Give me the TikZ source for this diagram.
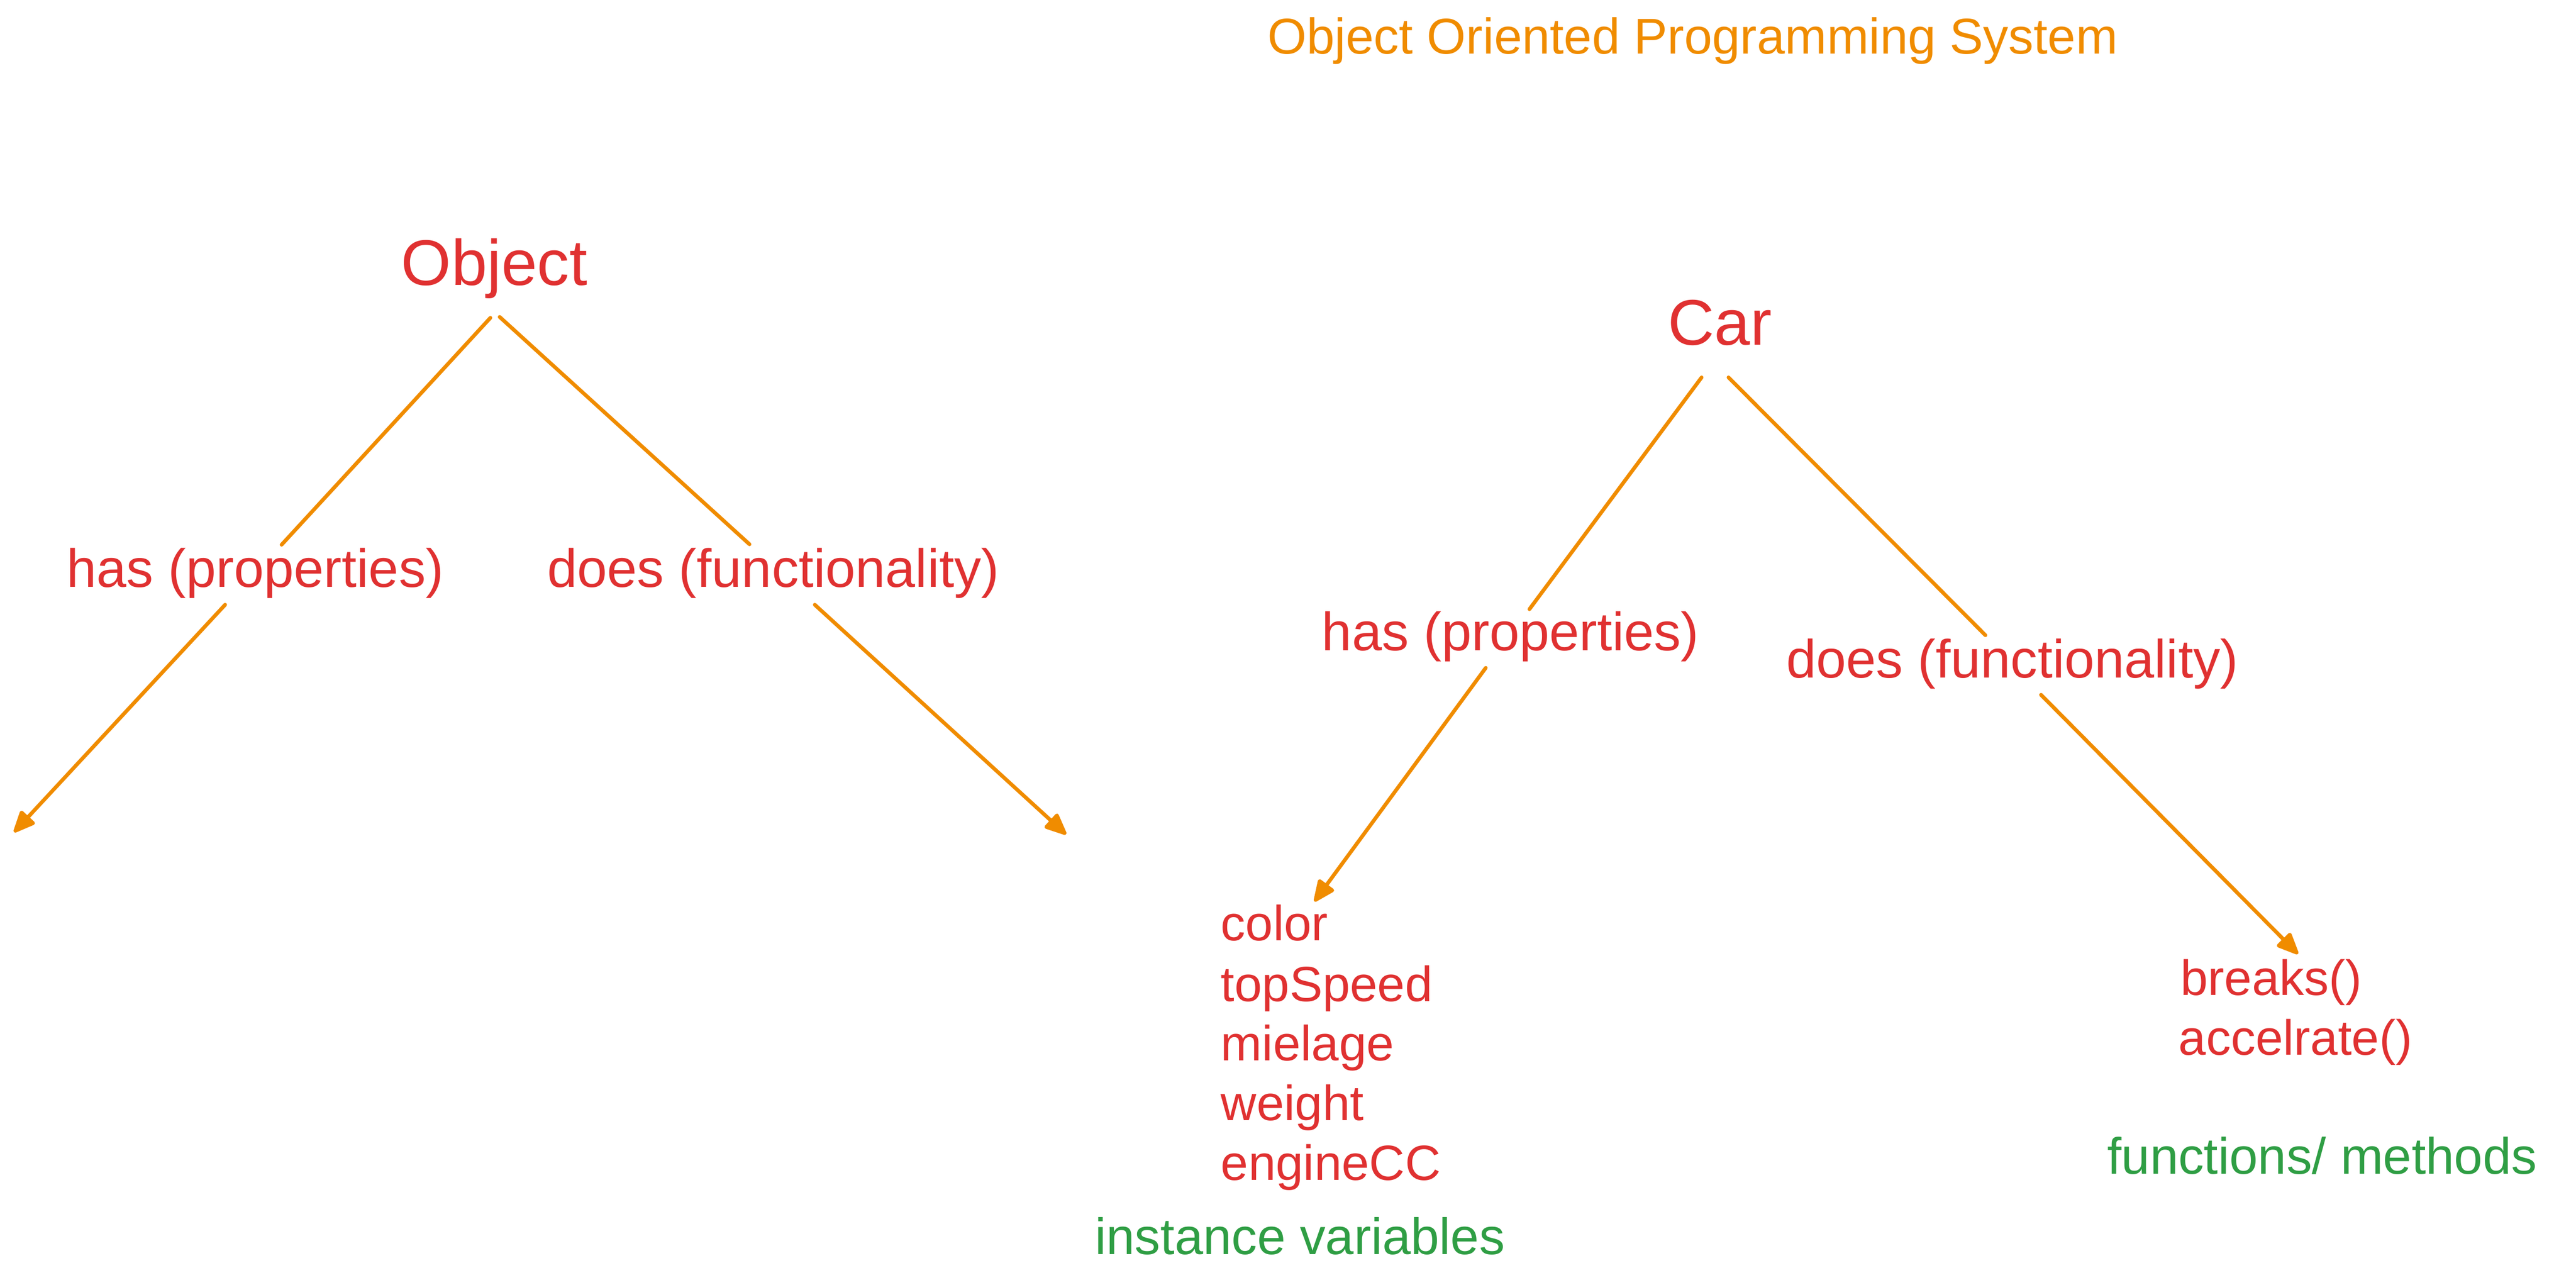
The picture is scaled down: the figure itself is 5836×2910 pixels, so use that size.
\documentclass[tikz,border=0pt]{standalone}
\usepackage{fontspec}
\setmainfont{Liberation Sans}
\usetikzlibrary{arrows.meta}
\definecolor{exred}{HTML}{E03131}
\definecolor{exorange}{HTML}{F08C00}
\definecolor{exgreen}{HTML}{2F9E44}
\tikzset{
  txt/.style={inner sep=0pt, outer sep=0pt, anchor=base west, text=exred},
  ttl/.style={txt, text=exorange, font=\fontsize{11.4}{13.5}\selectfont},
  big/.style={txt, font=\fontsize{14.6}{17}\selectfont},
  lbl/.style={txt, font=\fontsize{12.2}{14}\selectfont},
  itm/.style={txt, font=\fontsize{11.2}{13.5}\selectfont},
  note/.style={txt, text=exgreen, font=\fontsize{11.6}{13.5}\selectfont},
  link/.style={draw=exorange, line width=0.85pt, line cap=round, line join=round},
  arr/.style={link, -{Triangle[length=5.5pt,width=4.6pt,round]}}
}
\begin{document}
\begin{tikzpicture}[x=0.1pt,y=-0.1pt]
\useasboundingbox (0,0) rectangle (5836,2910);
% title
\node[ttl] (title) at (2872,122) {Object Oriented Programming System};
% left tree
\node[big] (obj) at (909,646) {Object};
\node[lbl] (has1) at (151,1330) {has (properties)};
\node[lbl] (does1) at (1240,1330) {does (functionality)};
\coordinate (objL) at (1111,720);
\coordinate (objR) at (1132,718);
\coordinate (has1T) at (638,1234);
\coordinate (does1T) at (1698,1233);
\coordinate (has1B) at (510,1370);
\coordinate (does1B) at (1846,1370);
\coordinate (has1E) at (32,1885);
\coordinate (does1E) at (2415,1890);
\draw[link] (objL) -- (has1T);
\draw[link] (objR) -- (does1T);
\draw[arr] (has1B) -- (has1E);
\draw[arr] (does1B) -- (does1E);
% right tree
\node[big] (car) at (3779,781) {Car};
\node[lbl] (has2) at (2995,1474) {has (properties)};
\node[lbl] (does2) at (4047,1536) {does (functionality)};
\coordinate (carL) at (3855,855);
\coordinate (carR) at (3916,855);
\coordinate (has2T) at (3465,1380);
\coordinate (does2T) at (4498,1439);
\coordinate (has2B) at (3366,1513);
\coordinate (does2B) at (4624,1574);
\coordinate (has2E) at (2978,2042);
\coordinate (does2E) at (5206,2161);
\draw[link] (carL) -- (has2T);
\draw[link] (carR) -- (does2T);
\draw[arr] (has2B) -- (has2E);
\draw[arr] (does2B) -- (does2E);
% properties
\node[itm] (p1) at (2766,2131) {color};
\node[itm] (p2) at (2766,2268) {topSpeed};
\node[itm] (p3) at (2766,2403) {mielage};
\node[itm] (p4) at (2766,2538) {weight};
\node[itm] (p5) at (2766,2673) {engineCC};
\node[note] (iv) at (2481,2841) {instance variables};
% methods
\node[itm] (m1) at (4940,2255) {breaks()};
\node[itm] (m2) at (4936,2390) {accelrate()};
\node[note] (fm) at (4774,2660) {functions/ methods};
\end{tikzpicture}
\end{document}
